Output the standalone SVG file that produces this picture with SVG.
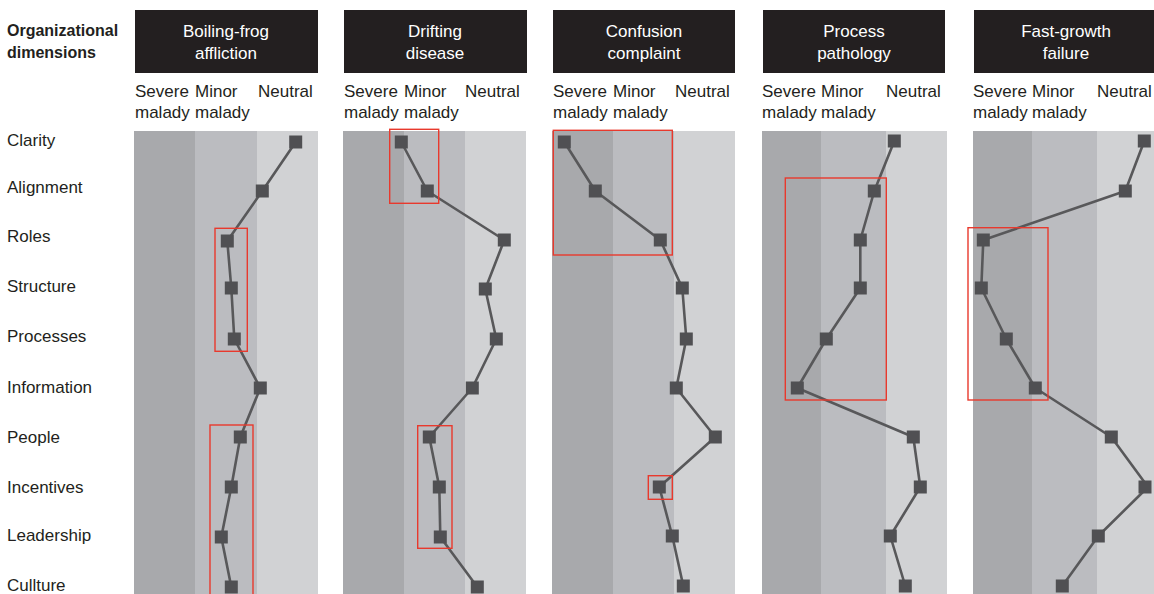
<svg xmlns="http://www.w3.org/2000/svg" width="1154" height="594" viewBox="0 0 1154 594">
<style>
.hdr{fill:#231f20}
.ht{font-family:"Liberation Sans",Arial,sans-serif;font-size:17px;fill:#ffffff;text-anchor:middle}
.lbl{font-family:"Liberation Sans",Arial,sans-serif;font-size:17px;fill:#231f20}
.ttl{font-family:"Liberation Sans",Arial,sans-serif;font-size:16px;font-weight:bold;fill:#231f20}
.b1{fill:#a8a9ac}
.b2{fill:#bbbcc0}
.b3{fill:#d1d2d4}
.ln{fill:none;stroke:#58585a;stroke-width:2.6;stroke-linejoin:round}
.mk{fill:#505053}
.hl{fill:none;stroke:#e8392d;stroke-width:1.4}
</style>
<defs>
<rect id="m" x="-6.5" y="-6.5" width="13" height="13" class="mk"/>
</defs>
<rect width="1154" height="594" fill="#ffffff"/>
<g id="labels">
<text class="ttl" x="7" y="36">Organizational</text>
<text class="ttl" x="7" y="58">dimensions</text>
<text class="lbl" x="7" y="146">Clarity</text>
<text class="lbl" x="7" y="193">Alignment</text>
<text class="lbl" x="7" y="242">Roles</text>
<text class="lbl" x="7" y="292">Structure</text>
<text class="lbl" x="7" y="342">Processes</text>
<text class="lbl" x="7" y="393">Information</text>
<text class="lbl" x="7" y="443">People</text>
<text class="lbl" x="7" y="493">Incentives</text>
<text class="lbl" x="7" y="541">Leadership</text>
<text class="lbl" x="7" y="591">Cullture</text>
</g>
<g id="panel-boiling-frog">
<rect class="hdr" x="135" y="10" width="183" height="63"/>
<text class="ht" x="226" y="37">Boiling-frog</text>
<text class="ht" x="226" y="59">affliction</text>
<text class="lbl" x="135" y="97">Severe</text>
<text class="lbl" x="195" y="97">Minor</text>
<text class="lbl" x="258" y="97">Neutral</text>
<text class="lbl" x="135" y="118">malady</text>
<text class="lbl" x="195" y="118">malady</text>
<rect class="b1" x="134" y="131" width="61" height="463"/>
<rect class="b2" x="195" y="131" width="62" height="463"/>
<rect class="b3" x="257" y="131" width="61" height="463"/>
</g>
<g id="panel-drifting">
<rect class="hdr" x="344" y="10" width="183" height="63"/>
<text class="ht" x="435" y="37">Drifting</text>
<text class="ht" x="435" y="59">disease</text>
<text class="lbl" x="344" y="97">Severe</text>
<text class="lbl" x="404" y="97">Minor</text>
<text class="lbl" x="465" y="97">Neutral</text>
<text class="lbl" x="344" y="118">malady</text>
<text class="lbl" x="404" y="118">malady</text>
<rect class="b1" x="343" y="131" width="61" height="463"/>
<rect class="b2" x="404" y="131" width="61" height="463"/>
<rect class="b3" x="465" y="131" width="61" height="463"/>
</g>
<g id="panel-confusion">
<rect class="hdr" x="553" y="10" width="182" height="63"/>
<text class="ht" x="644" y="37">Confusion</text>
<text class="ht" x="644" y="59">complaint</text>
<text class="lbl" x="553" y="97">Severe</text>
<text class="lbl" x="613" y="97">Minor</text>
<text class="lbl" x="675" y="97">Neutral</text>
<text class="lbl" x="553" y="118">malady</text>
<text class="lbl" x="613" y="118">malady</text>
<rect class="b1" x="552" y="131" width="61" height="463"/>
<rect class="b2" x="613" y="131" width="61" height="463"/>
<rect class="b3" x="674" y="131" width="61" height="463"/>
</g>
<g id="panel-process">
<rect class="hdr" x="763" y="10" width="182" height="63"/>
<text class="ht" x="854" y="37">Process</text>
<text class="ht" x="854" y="59">pathology</text>
<text class="lbl" x="762" y="97">Severe</text>
<text class="lbl" x="821" y="97">Minor</text>
<text class="lbl" x="886" y="97">Neutral</text>
<text class="lbl" x="762" y="118">malady</text>
<text class="lbl" x="821" y="118">malady</text>
<rect class="b1" x="762" y="131" width="59" height="463"/>
<rect class="b2" x="821" y="131" width="65" height="463"/>
<rect class="b3" x="886" y="131" width="61" height="463"/>
</g>
<g id="panel-fast-growth">
<rect class="hdr" x="974" y="10" width="182" height="63"/>
<text class="ht" x="1066" y="37">Fast-growth</text>
<text class="ht" x="1066" y="59">failure</text>
<text class="lbl" x="973" y="97">Severe</text>
<text class="lbl" x="1032" y="97">Minor</text>
<text class="lbl" x="1097" y="97">Neutral</text>
<text class="lbl" x="973" y="118">malady</text>
<text class="lbl" x="1032" y="118">malady</text>
<rect class="b1" x="973" y="131" width="59" height="463"/>
<rect class="b2" x="1032" y="131" width="65" height="463"/>
<rect class="b3" x="1097" y="131" width="61" height="463"/>
</g>
<g id="connectors">
<polyline class="ln" points="295.7,142 262.3,191 227.3,241 231.3,288 234.3,339 260.3,388 240.3,437 231.3,487 221.3,537 231.3,587"/>
<polyline class="ln" points="401.3,142 427.3,191 504.3,240 485.3,289 496.3,339 472.3,388 429.3,437 439.3,487 440.3,537 477.3,587"/>
<polyline class="ln" points="564.3,142 595.3,191 660.3,240 682.3,288 686.3,339 676.3,388 715.3,437 659.3,487 672.3,536 683.3,586"/>
<polyline class="ln" points="894.3,141 874.3,191 860.3,240 860.3,288 826.3,339 797.3,388 913.3,437 920.3,487 890.3,536 905.3,586"/>
<polyline class="ln" points="1144.3,141 1125.3,191 983.3,240 981.3,288 1006.3,339 1035.3,388 1111.3,437 1148,487 1098.3,536 1062.3,586"/>
</g>
<g id="highlights">
<rect class="hl" x="215" y="228.3" width="32.3" height="123"/>
<rect class="hl" x="210" y="425" width="43" height="175"/>
<rect class="hl" x="389.7" y="129.3" width="49" height="74"/>
<rect class="hl" x="417.7" y="425.7" width="34.3" height="122.6"/>
<rect class="hl" x="553.3" y="130.3" width="119" height="124.7"/>
<rect class="hl" x="648.3" y="475.7" width="24" height="23.6"/>
<rect class="hl" x="785.3" y="178" width="101" height="222"/>
<rect class="hl" x="968" y="227.7" width="80" height="172.3"/>
</g>
<g id="markers">
<use href="#m" x="295.7" y="142"/><use href="#m" x="262.3" y="191"/><use href="#m" x="227.3" y="241"/><use href="#m" x="231.3" y="288"/><use href="#m" x="234.3" y="339"/><use href="#m" x="260.3" y="388"/><use href="#m" x="240.3" y="437"/><use href="#m" x="231.3" y="487"/><use href="#m" x="221.3" y="537"/><use href="#m" x="231.3" y="587"/>
<use href="#m" x="401.3" y="142"/><use href="#m" x="427.3" y="191"/><use href="#m" x="504.3" y="240"/><use href="#m" x="485.3" y="289"/><use href="#m" x="496.3" y="339"/><use href="#m" x="472.3" y="388"/><use href="#m" x="429.3" y="437"/><use href="#m" x="439.3" y="487"/><use href="#m" x="440.3" y="537"/><use href="#m" x="477.3" y="587"/>
<use href="#m" x="564.3" y="142"/><use href="#m" x="595.3" y="191"/><use href="#m" x="660.3" y="240"/><use href="#m" x="682.3" y="288"/><use href="#m" x="686.3" y="339"/><use href="#m" x="676.3" y="388"/><use href="#m" x="715.3" y="437"/><use href="#m" x="659.3" y="487"/><use href="#m" x="672.3" y="536"/><use href="#m" x="683.3" y="586"/>
<use href="#m" x="894.3" y="141"/><use href="#m" x="874.3" y="191"/><use href="#m" x="860.3" y="240"/><use href="#m" x="860.3" y="288"/><use href="#m" x="826.3" y="339"/><use href="#m" x="797.3" y="388"/><use href="#m" x="913.3" y="437"/><use href="#m" x="920.3" y="487"/><use href="#m" x="890.3" y="536"/><use href="#m" x="905.3" y="586"/>
<use href="#m" x="1144.3" y="141"/><use href="#m" x="1125.3" y="191"/><use href="#m" x="983.3" y="240"/><use href="#m" x="981.3" y="288"/><use href="#m" x="1006.3" y="339"/><use href="#m" x="1035.3" y="388"/><use href="#m" x="1111.3" y="437"/><use href="#m" x="1145" y="487"/><use href="#m" x="1098.3" y="536"/><use href="#m" x="1062.3" y="586"/>
</g>
</svg>
